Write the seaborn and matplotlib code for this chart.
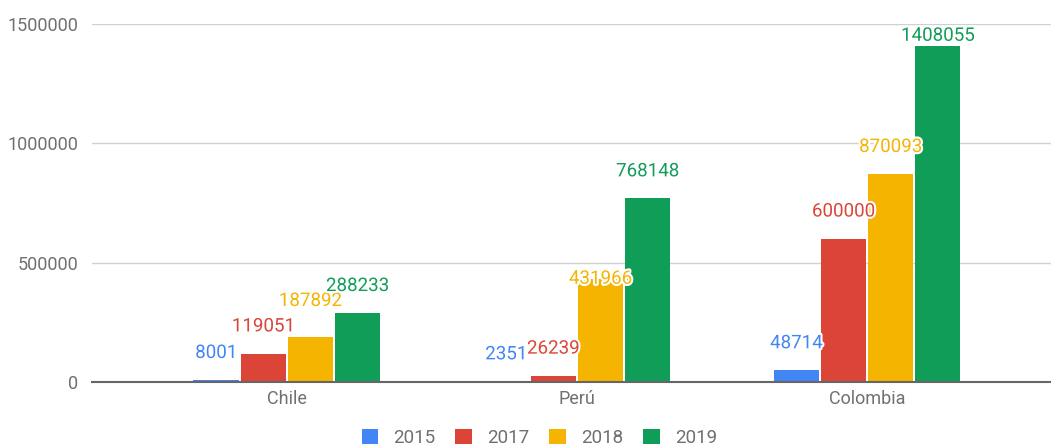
import numpy as np
import pandas as pd
import matplotlib
matplotlib.use('Agg')
import matplotlib.pyplot as plt
import matplotlib.patheffects as pe
from matplotlib.patches import Patch
import seaborn as sns


countries = ['Chile', 'Perú', 'Colombia']
years = ['2015', '2017', '2018', '2019']
v2015 = [8001, 2351, 48714]
v2017 = [119051, 26239, 600000]
v2018 = [187892, 431966, 870093]
v2019 = [288233, 768148, 1408055]
colors = ['#4285F4', '#DB4437', '#F4B400', '#0F9D58']

# long format table for seaborn
rows = []
for yr, vals in zip(years, [v2015, v2017, v2018, v2019]):
    for c, v in zip(countries, vals):
        rows.append({'country': c, 'year': yr, 'value': v})
df = pd.DataFrame(rows)

sns.set_style('white')
plt.rcParams['font.family'] = ['Roboto', 'DejaVu Sans']

fig = plt.figure(figsize=(10.51, 4.45), dpi=100)
ax = fig.add_axes([0.0875, 0.1416, 0.9125, 0.8055])

sns.barplot(data=df, x='country', y='value', hue='year', order=countries,
            hue_order=years, palette=colors, width=0.65, saturation=1,
            linewidth=0, legend=False, ax=ax)

# small white gap between neighbouring bars
gap = 0.006
for p in ax.patches:
    p.set_x(p.get_x() + gap / 2)
    p.set_width(p.get_width() - gap)

ax.set_ylim(0, 1500000)
ax.set_xlim(-0.672, 2.634)
ax.set_yticks([0, 500000, 1000000, 1500000])
ax.set_yticklabels(['0', '500000', '1000000', '1500000'])
ax.grid(axis='y', color='#d0d0d0', linewidth=1)
ax.set_axisbelow(True)
for s in ['top', 'right', 'left']:
    ax.spines[s].set_visible(False)
ax.spines['bottom'].set_color('#666666')
ax.spines['bottom'].set_linewidth(1.5)
ax.spines['bottom'].set_zorder(5)
ax.tick_params(axis='both', length=0, labelsize=13, colors='#707070')
ax.tick_params(axis='y', pad=10)
ax.tick_params(axis='x', pad=6)
ax.set_xlabel('')
ax.set_ylabel('')

# label offsets in points (most sit ~27px above the bar)
offsets = {('2018', 0): 26, ('2018', 1): 0, ('2019', 2): 7}
for i, (yr, cont) in enumerate(zip(years, ax.containers)):
    for j, bar in enumerate(cont):
        val = bar.get_height()
        dy = offsets.get((yr, j), 19.5)
        ax.annotate(f'{int(round(val))}',
                    (bar.get_x() + bar.get_width() / 2, val),
                    xytext=(0, dy), textcoords='offset points',
                    ha='center', va='center', fontsize=13.5,
                    color=colors[i], annotation_clip=False, zorder=6,
                    path_effects=[pe.withStroke(linewidth=3, foreground='white')])

handles = [Patch(facecolor=c, edgecolor='none') for c in colors]
fig.legend(handles, years, loc='lower center', bbox_to_anchor=(0.513, -0.042),
           ncol=4, frameon=False, fontsize=13.5, handlelength=0.9,
           handleheight=0.9, handletextpad=0.8, columnspacing=1.05,
           labelcolor='#707070')

fig.savefig('out.png', dpi=100)
